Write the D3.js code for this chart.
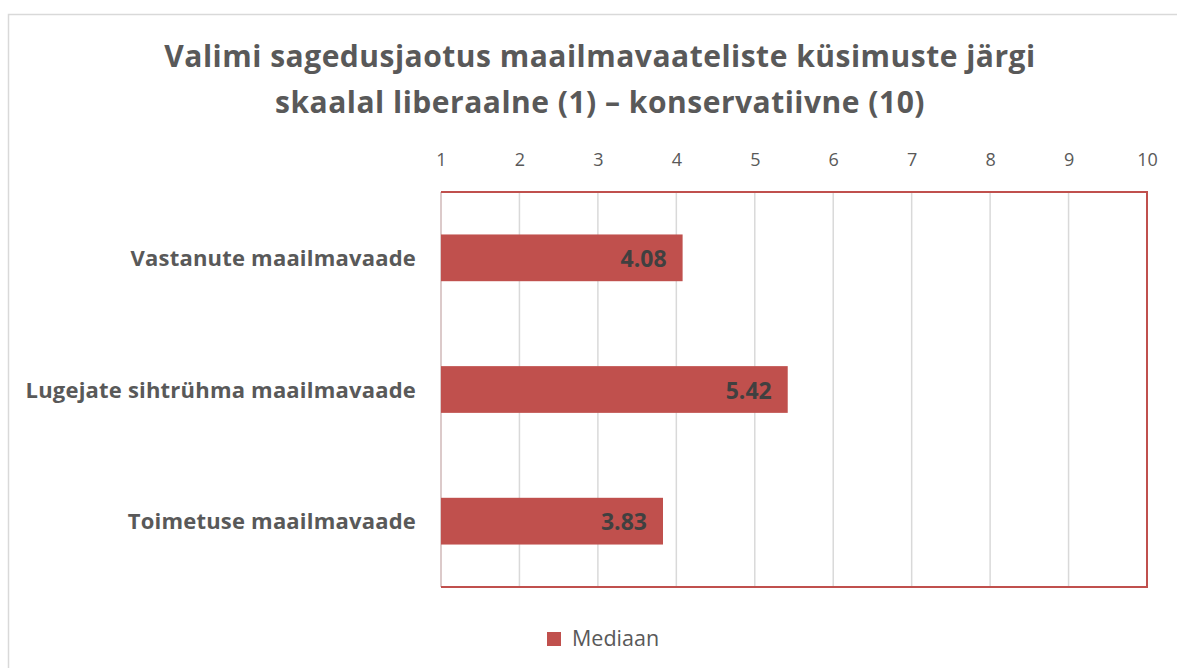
<!DOCTYPE html>
<html>
<head>
<meta charset="utf-8">
<script src="https://cdn.jsdelivr.net/npm/d3@7"></script>
<style>
  body { margin: 0; background: #fff; }
  svg { display: block; font-family: "Open Sans", sans-serif; }
</style>
</head>
<body>
<svg id="chart" width="1177" height="668"></svg>
<script>
const titleLines = [
    "Valimi sagedusjaotus maailmavaateliste küsimuste järgi",
    "skaalal liberaalne (1) – konservatiivne (10)"
];
const categories = ["Vastanute maailmavaade", "Lugejate sihtrühma maailmavaade", "Toimetuse maailmavaade"];
const medians = [4.08, 5.42, 3.83];
const tickValues = [1, 2, 3, 4, 5, 6, 7, 8, 9, 10];
const seriesName = "Mediaan";

const width = 1177;
const height = 668;
const margin = {top: 192, right: 30, bottom: 81, left: 441};
const barColor = "#c0504d";
const textColor = "#595959";

const svg = d3.select("#chart");

// outer chart frame (runs off the right and bottom edges)
svg.append("rect")
    .attr("x", 8.5).attr("y", 14.5)
    .attr("width", width + 20).attr("height", height + 20)
    .attr("fill", "#fff")
    .attr("stroke", "#d9d9d9")
    .attr("stroke-width", 1.5);

const x = d3.scaleLinear()
    .domain([1, 10])
    .range([margin.left, width - margin.right]);

const y = d3.scaleBand()
    .domain(categories)
    .range([margin.top, height - margin.bottom])
    .paddingInner(0.645)
    .paddingOuter(0.3225);

// title
svg.append("text")
    .attr("text-anchor", "middle")
    .attr("font-weight", "bold")
    .attr("font-size", 30)
    .attr("letter-spacing", 0.5)
    .attr("fill", textColor)
    .selectAll("tspan")
    .data(titleLines)
    .join("tspan")
    .attr("x", 600)
    .attr("y", (d, i) => 67 + i * 46)
    .text(d => d);

// gridlines
svg.append("g")
    .selectAll("line")
    .data(tickValues)
    .join("line")
    .attr("x1", d => x(d)).attr("x2", d => x(d))
    .attr("y1", margin.top).attr("y2", height - margin.bottom)
    .attr("stroke", "#d9d9d9")
    .attr("stroke-width", 1.5);

// top axis
const xAxis = d3.axisTop(x).tickValues(tickValues).tickSize(0).tickPadding(26);
const axisG = svg.append("g")
    .attr("transform", `translate(0,${margin.top})`)
    .call(xAxis)
    .attr("font-family", null)
    .attr("font-size", null);
axisG.select(".domain").remove();
axisG.selectAll("text")
    .attr("font-size", 18)
    .attr("fill", textColor);

// left edge of plot area
svg.append("line")
    .attr("x1", x(1)).attr("x2", x(1))
    .attr("y1", margin.top).attr("y2", height - margin.bottom)
    .attr("stroke", "#dccaca")
    .attr("stroke-width", 2);

// bars
svg.append("g")
    .selectAll("rect")
    .data(medians)
    .join("rect")
    .attr("x", x(1))
    .attr("y", (d, i) => y(categories[i]))
    .attr("width", d => x(d) - x(1))
    .attr("height", y.bandwidth())
    .attr("fill", barColor);

// plot border: top, right, bottom
const [x0, x1] = x.range();
const [y0, y1] = [margin.top, height - margin.bottom];
svg.append("path")
    .attr("d", `M${x0},${y0}H${x1}V${y1}H${x0}`)
    .attr("fill", "none")
    .attr("stroke", barColor)
    .attr("stroke-width", 2);

// value labels
svg.append("g")
    .selectAll("text")
    .data(medians)
    .join("text")
    .attr("x", d => x(d) - 16)
    .attr("y", (d, i) => y(categories[i]) + y.bandwidth() / 2 + 9)
    .attr("text-anchor", "end")
    .attr("font-weight", "bold")
    .attr("font-size", 23)
    .attr("fill", "#404040")
    .text(d => d.toFixed(2));

// category labels
svg.append("g")
    .selectAll("text")
    .data(categories)
    .join("text")
    .attr("x", x(1) - 25)
    .attr("y", d => y(d) + y.bandwidth() / 2 + 8)
    .attr("text-anchor", "end")
    .attr("font-weight", "bold")
    .attr("font-size", 22)
    .attr("letter-spacing", 0.2)
    .attr("fill", textColor)
    .text(d => d);

// legend
const legend = svg.append("g").attr("transform", "translate(547,632)");
legend.append("rect")
    .attr("width", 14).attr("height", 14)
    .attr("fill", barColor);
legend.append("text")
    .attr("x", 25).attr("y", 13.5)
    .attr("font-size", 21.5)
    .attr("fill", textColor)
    .text(seriesName);
</script>
</body>
</html>
